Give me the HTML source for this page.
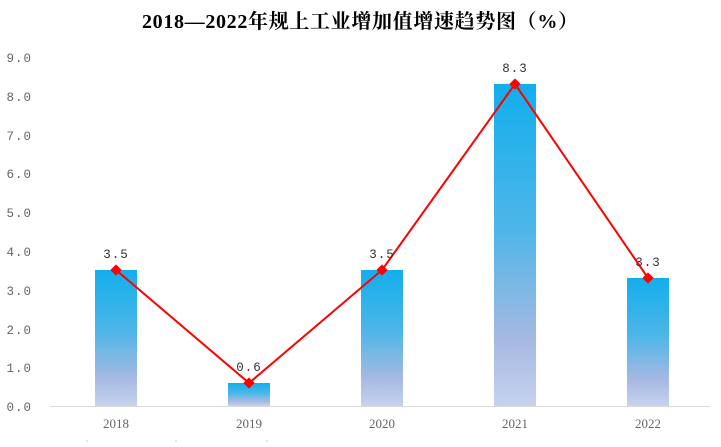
<!DOCTYPE html>
<html><head><meta charset="utf-8"><style>
body{margin:0;background:#fff;width:721px;height:442px;overflow:hidden}
</style></head><body>
<svg width="721" height="442" xmlns="http://www.w3.org/2000/svg">
<defs>
<linearGradient id="g" x1="0" y1="0" x2="0" y2="1">
<stop offset="0" stop-color="#12aeec"/>
<stop offset="0.45" stop-color="#4db6e8"/>
<stop offset="0.8" stop-color="#a7b9e2"/>
<stop offset="1" stop-color="#c6d3ee"/>
</linearGradient>
</defs>
<text x="142" y="28" textLength="436" lengthAdjust="spacing" font-family="Liberation Serif, Noto Serif CJK SC, serif" font-weight="bold" font-size="20" fill="#000">2018—2022年规上工业增加值增速趋势图（%）</text>
<g font-family="Liberation Mono, monospace" font-size="12.5" fill="#666" text-anchor="end" letter-spacing="1">
<text x="32" y="411">0.0</text><text x="32" y="372">1.0</text><text x="32" y="334">2.0</text>
<text x="32" y="295">3.0</text><text x="32" y="256">4.0</text><text x="32" y="217">5.0</text>
<text x="32" y="178">6.0</text><text x="32" y="140">7.0</text><text x="32" y="101">8.0</text>
<text x="32" y="62">9.0</text>
</g>
<line x1="50" y1="406.5" x2="710" y2="406.5" stroke="#d9d9d9" stroke-width="1"/>
<g fill="url(#g)">
<rect x="95" y="270" width="42" height="136"/>
<rect x="228" y="383" width="42" height="23"/>
<rect x="361" y="270" width="42" height="136"/>
<rect x="494" y="84" width="42" height="322"/>
<rect x="627" y="278" width="42" height="128"/>
</g>
<polyline points="116,270 249,383 382,270 515,84 648,278" fill="none" stroke="#ff0000" stroke-width="2"/>
<g fill="#ff0000">
<rect x="112" y="266" width="8" height="8" transform="rotate(45 116 270)"/>
<rect x="245" y="379" width="8" height="8" transform="rotate(45 249 383)"/>
<rect x="378" y="266" width="8" height="8" transform="rotate(45 382 270)"/>
<rect x="511" y="80" width="8" height="8" transform="rotate(45 515 84)"/>
<rect x="644" y="274" width="8" height="8" transform="rotate(45 648 278)"/>
</g>
<g font-family="Liberation Mono, monospace" font-size="12.5" fill="#333" text-anchor="middle" letter-spacing="1">
<text x="116" y="258">3.5</text><text x="249" y="371">0.6</text><text x="382" y="258">3.5</text>
<text x="515" y="72">8.3</text><text x="648" y="266">3.3</text>
</g>
<g font-family="Liberation Serif, serif" font-size="13" fill="#666" text-anchor="middle">
<text x="116" y="428">2018</text><text x="249" y="428">2019</text><text x="382" y="428">2020</text>
<text x="515" y="428">2021</text><text x="648" y="428">2022</text>
</g>
<g stroke="#ccc"><line x1="87" y1="440" x2="87" y2="442"/><line x1="176" y1="440" x2="176" y2="442"/><line x1="267" y1="440" x2="267" y2="442"/></g>
</svg>
</body></html>
